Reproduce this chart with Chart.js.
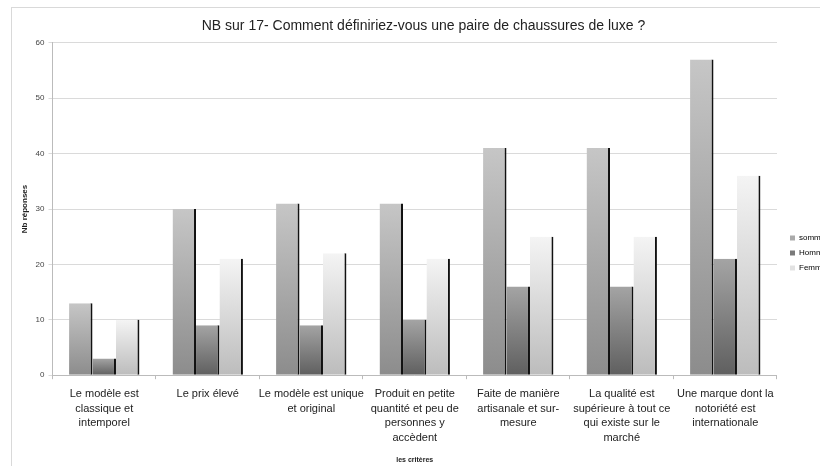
<!DOCTYPE html>
<html>
<head>
<meta charset="utf-8">
<script src="https://cdn.jsdelivr.net/npm/chart.js@4/dist/chart.umd.min.js"></script>
<style>
  html, body { margin: 0; padding: 0; background: #fff; overflow: hidden; width: 820px; height: 466px; }
  #wrap { position: absolute; left: 11px; top: 7px; width: 830px; height: 470px; border: 1px solid #d9d9d9; box-sizing: border-box; }
  #inner { position: absolute; left: 0; top: 0; width: 828px; height: 456px; }
</style>
</head>
<body>
<div id="wrap"><div id="inner"><canvas id="chart"></canvas></div></div>
<script>
const categories = [
  ['Le modèle est', 'classique et', 'intemporel'],
  ['Le prix élevé'],
  ['Le modèle est unique', 'et original'],
  ['Produit en petite', 'quantité et peu de', 'personnes y', 'accèdent'],
  ['Faite de manière', 'artisanale et sur-', 'mesure'],
  ['La qualité est', 'supérieure à tout ce', 'qui existe sur le', 'marché'],
  ['Une marque dont la', 'notoriété est', 'internationale'],
];
const somme = [13, 30, 31, 31, 41, 41, 57];
const homme = [3, 9, 9, 10, 16, 16, 21];
const femme = [10, 21, 22, 21, 25, 25, 36];

// dégradé vertical pour chaque barre
function barGradient(top, bottom, fallback) {
  return function (ctx) {
    const chart = ctx.chart;
    const y = chart.scales && chart.scales.y;
    if (!chart.chartArea || !y || ctx.raw === undefined) return fallback;
    const y0 = y.getPixelForValue(0);
    const y1 = y.getPixelForValue(ctx.raw);
    const g = chart.ctx.createLinearGradient(0, y1, 0, y0);
    g.addColorStop(0, top);
    g.addColorStop(1, bottom);
    return g;
  };
}

// décale la légende un peu à droite et vers le bas
const legendShift = {
  id: 'legendShift',
  afterLayout: function (chart) {
    const lg = chart.legend;
    if (!lg) return;
    lg.left += 6;
    lg.right += 6;
    lg.top += 15;
    lg.bottom += 15;
  },
};

const shadowBorder = { top: 0, left: 0, bottom: 0, right: 2 };

const config = {
  type: 'bar',
  data: {
    labels: categories,
    datasets: [
      {
        label: 'somme',
        data: somme,
        backgroundColor: barGradient('#c6c6c6', '#8c8c8c', '#aaaaaa'),
        borderColor: '#111',
        borderWidth: shadowBorder,
        borderSkipped: false,
      },
      {
        label: 'Homme',
        data: homme,
        backgroundColor: barGradient('#a4a4a4', '#5f5f5f', '#888888'),
        borderColor: '#111',
        borderWidth: shadowBorder,
        borderSkipped: false,
      },
      {
        label: 'Femme',
        data: femme,
        backgroundColor: barGradient('#f4f4f4', '#bcbcbc', '#dddddd'),
        borderColor: '#111',
        borderWidth: shadowBorder,
        borderSkipped: false,
      },
    ],
  },
  options: {
    responsive: true,
    maintainAspectRatio: false,
    animation: false,
    datasets: { bar: { categoryPercentage: 0.68, barPercentage: 1 } },
    layout: { padding: { left: 4, right: 9, top: 4, bottom: 0 } },
    plugins: {
      tooltip: { enabled: false },
      title: {
        display: true,
        text: 'NB sur 17- Comment définiriez-vous une paire de chaussures de luxe ?',
        color: '#222',
        font: { size: 14, weight: 'normal' },
        padding: { top: 6, bottom: 8 },
      },
      legend: {
        position: 'right',
        align: 'center',
        labels: {
          boxWidth: 5,
          boxHeight: 5,
          padding: 7,
          color: '#555',
          font: { size: 8 },
          generateLabels: function (chart) {
            const colors = ['#aaaaaa', '#7a7a7a', '#e2e2e2'];
            return chart.data.datasets.map((ds, i) => ({
              text: ds.label,
              fillStyle: colors[i],
              strokeStyle: colors[i],
              lineWidth: 0,
              datasetIndex: i,
            }));
          },
        },
      },
    },
    scales: {
      x: {
        grid: {
          display: true,
          drawOnChartArea: false,
          drawTicks: true,
          tickLength: 4,
          color: '#bbb',
          offset: true,
        },
        border: { color: '#bbb' },
        ticks: {
          color: '#222',
          font: { size: 11, lineHeight: 1.35 },
          maxRotation: 0,
          autoSkip: false,
          padding: 7,
        },
        title: {
          display: true,
          text: 'les critères',
          color: '#222',
          font: { size: 7, weight: 'bold' },
          padding: { top: 3, bottom: 0 },
        },
      },
      y: {
        min: 0,
        max: 60,
        ticks: { stepSize: 10, color: '#444', font: { size: 8 }, padding: 4 },
        grid: { color: '#dadada', tickLength: 4 },
        border: { color: '#bbb' },
        title: {
          display: true,
          text: 'Nb réponses',
          color: '#222',
          font: { size: 8, weight: 'bold' },
          padding: { bottom: 2 },
        },
      },
    },
  },
  plugins: [legendShift],
};

Chart.defaults.font.family = '"Liberation Sans", Arial, sans-serif';
new Chart(document.getElementById('chart').getContext('2d'), config);
</script>
</body>
</html>
